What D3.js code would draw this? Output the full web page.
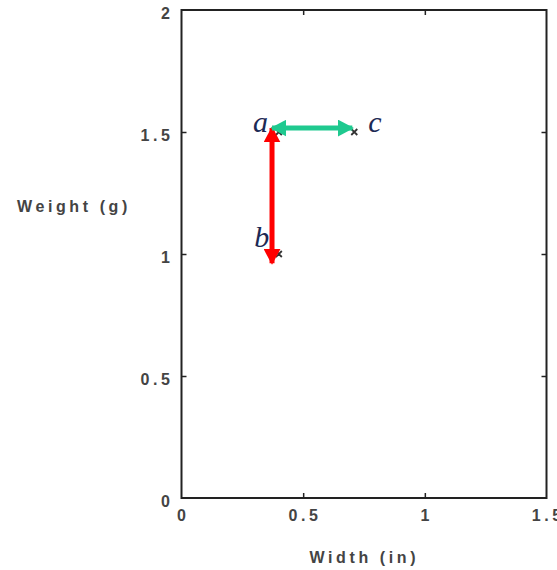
<!DOCTYPE html>
<html><head><meta charset="utf-8">
<script src="https://cdn.jsdelivr.net/npm/d3@7"></script>
<style>
html,body{margin:0;padding:0;background:#fff;}
svg{display:block;}
</style>
</head><body>
<svg id="chart" width="557" height="570"></svg>
<script>
// Data
const pointNames = ["a", "b", "c"];
const pointX = [0.40, 0.40, 0.71];
const pointY = [1.50, 1.00, 1.50];
const labelX = [0.325, 0.33, 0.795];
const labelY = [1.50, 1.03, 1.50];
// arrows: from [x, y] to [x, y]
const arrowNames = ["ab", "ac"];
const arrowFrom = [[0.372, 1.516], [0.372, 1.516]];
const arrowTo = [[0.372, 0.962], [0.702, 1.516]];
const arrowColors = ["#ff0000", "#1fc98f"];
const xTicks = [0, 0.5, 1, 1.5];
const yTicks = [0, 0.5, 1, 1.5, 2];
const xTickLabels = ["0", "0.5", "1", "1.5"];
const yTickLabels = ["0", "0.5", "1", "1.5", "2"];

const svg = d3.select("#chart");
const mLeft = 181.5, mRight = 546.5, mTop = 10, mBottom = 498;
const x = d3.scaleLinear().domain([0, 1.5]).range([mLeft, mRight]);
const y = d3.scaleLinear().domain([0, 2]).range([mBottom, mTop]);

const axisColor = "#222";
const tickFont = "Arial, 'Liberation Sans', sans-serif";
const ls = 3.6;
const textColor = "#444";

// inward ticks on all sides
const tl = 5;
const gAx = svg.append("g");
gAx.append("g").attr("transform", `translate(0,${mBottom})`)
  .call(d3.axisTop(x).tickValues(xTicks.slice(1, -1)).tickSize(tl).tickFormat(""))
  .call(g => g.select(".domain").remove());
gAx.append("g").attr("transform", `translate(0,${mTop})`)
  .call(d3.axisBottom(x).tickValues(xTicks.slice(1, -1)).tickSize(tl).tickFormat(""))
  .call(g => g.select(".domain").remove());
gAx.append("g").attr("transform", `translate(${mLeft},0)`)
  .call(d3.axisRight(y).tickValues(yTicks.slice(1, -1)).tickSize(tl).tickFormat(""))
  .call(g => g.select(".domain").remove());
gAx.append("g").attr("transform", `translate(${mRight},0)`)
  .call(d3.axisLeft(y).tickValues(yTicks.slice(1, -1)).tickSize(tl).tickFormat(""))
  .call(g => g.select(".domain").remove());
gAx.selectAll(".tick line").attr("stroke", axisColor).attr("stroke-width", 1.5);

// frame
svg.append("rect")
  .attr("x", x(0)).attr("y", y(2))
  .attr("width", x(1.5) - x(0)).attr("height", y(0) - y(2))
  .attr("fill", "none").attr("stroke", axisColor).attr("stroke-width", 2);

// tick labels
svg.append("g").selectAll("text").data(xTicks).join("text")
  .attr("x", d => x(d)).attr("y", 521).attr("dx", ls / 2)
  .attr("text-anchor", "middle")
  .attr("font-family", tickFont).attr("font-size", 16).attr("font-weight", "bold")
  .attr("letter-spacing", ls)
  .attr("fill", textColor)
  .text((d, i) => xTickLabels[i]);
svg.append("g").selectAll("text").data(yTicks).join("text")
  .attr("x", 170).attr("y", d => y(d) + 8.5).attr("dx", ls)
  .attr("text-anchor", "end")
  .attr("font-family", tickFont).attr("font-size", 16).attr("font-weight", "bold")
  .attr("letter-spacing", ls)
  .attr("fill", textColor)
  .text((d, i) => yTickLabels[i]);

// axis titles
svg.append("text").attr("x", 362.5).attr("y", 563).attr("dx", ls / 2).attr("text-anchor", "middle")
  .attr("font-family", tickFont).attr("font-size", 16).attr("font-weight", "bold")
  .attr("letter-spacing", ls).attr("fill", textColor).text("Width (in)");
svg.append("text").attr("x", 17).attr("y", 212).attr("text-anchor", "start")
  .attr("font-family", tickFont).attr("font-size", 16).attr("font-weight", "bold")
  .attr("letter-spacing", ls).attr("fill", textColor).text("Weight (g)");

// markers
const defs = svg.append("defs");
arrowColors.forEach((c, i) => {
  defs.append("marker").attr("id", "ah" + i)
    .attr("viewBox", "0 0 10 10").attr("refX", 9).attr("refY", 5)
    .attr("markerWidth", 3.2).attr("markerHeight", 3.4)
    .attr("markerUnits", "strokeWidth")
    .attr("preserveAspectRatio", "none")
    .attr("orient", "auto-start-reverse")
    .append("path").attr("d", "M0,0 L10,5 L0,10 z").attr("fill", c);
});

// points (crosses)
const cs = 3;
svg.append("g").selectAll("path").data(pointX).join("path")
  .attr("d", (d, i) => {
    const px = x(d), py = y(pointY[i]);
    return `M${px - cs},${py - cs}L${px + cs},${py + cs}M${px - cs},${py + cs}L${px + cs},${py - cs}`;
  })
  .attr("stroke", "#333").attr("stroke-width", 1.8);

// arrows
svg.append("g").selectAll("line").data(arrowNames).join("line")
  .attr("x1", (d, i) => x(arrowFrom[i][0]))
  .attr("y1", (d, i) => y(arrowFrom[i][1]))
  .attr("x2", (d, i) => x(arrowTo[i][0]))
  .attr("y2", (d, i) => y(arrowTo[i][1]))
  .attr("stroke", (d, i) => arrowColors[i])
  .attr("stroke-width", 5)
  .attr("marker-start", (d, i) => `url(#ah${i})`)
  .attr("marker-end", (d, i) => `url(#ah${i})`);

// point labels
svg.append("g").selectAll("text").data(pointNames).join("text")
  .attr("x", (d, i) => x(labelX[i]))
  .attr("y", (d, i) => y(labelY[i]))
  .attr("text-anchor", "middle")
  .attr("font-family", "'Liberation Serif', 'DejaVu Serif', serif")
  .attr("font-style", "italic").attr("font-size", 30)
  .attr("fill", "#1c2a55")
  .text(d => d);
</script>
</body></html>
